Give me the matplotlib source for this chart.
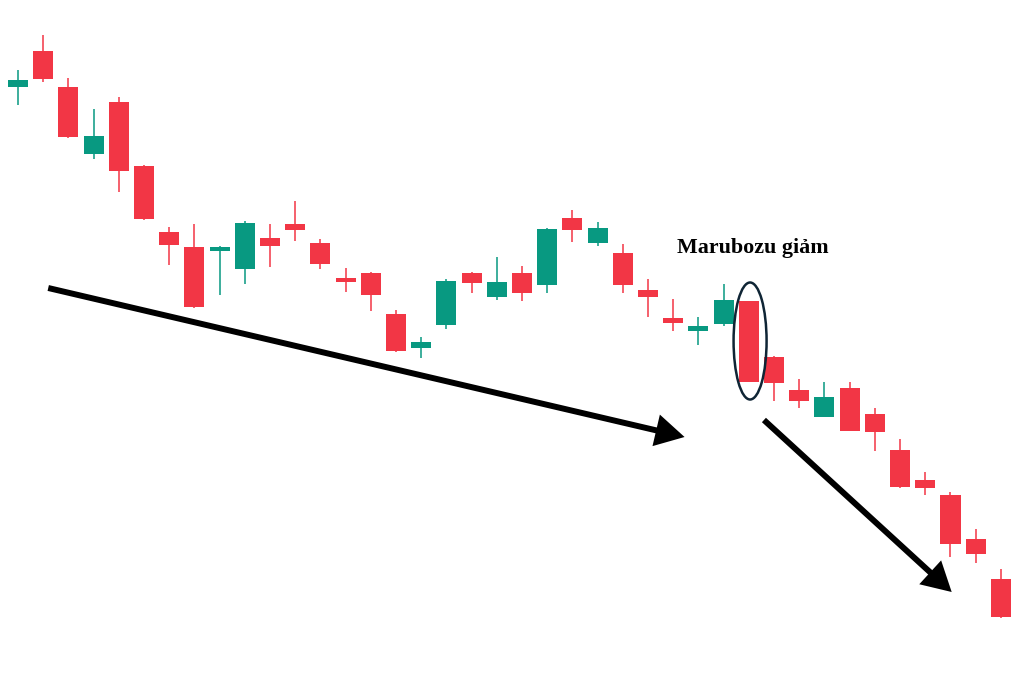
import numpy as np
import matplotlib
matplotlib.use('Agg')
import matplotlib.pyplot as plt
from matplotlib.patches import Ellipse

# 开, 高, 低, 收 (40 cây nến)
Open  = [594, 630, 594, 527, 579, 515, 449, 434, 430, 412,
         443, 457, 438, 403, 408, 367, 333, 356, 408, 384,
         408, 396, 463, 438, 428, 391, 363, 350, 357, 380,
         324, 291, 264, 293, 267, 231, 201, 186, 142, 102]
High  = [611, 646, 603, 572, 584, 516, 454, 457, 435, 460,
         457, 480, 442, 413, 409, 371, 344, 402, 409, 424,
         415, 453, 471, 459, 437, 402, 382, 364, 397, 380,
         325, 302, 299, 299, 273, 242, 209, 189, 152, 112]
Low   = [576, 599, 543, 522, 489, 461, 416, 373, 386, 397,
         414, 440, 412, 389, 370, 329, 323, 352, 388, 381,
         380, 388, 439, 435, 388, 364, 350, 336, 355, 299,
         280, 273, 264, 250, 230, 193, 186, 124, 118, 63]
Close = [601, 602, 544, 545, 510, 462, 436, 374, 434, 458,
         435, 451, 417, 399, 386, 330, 339, 400, 398, 399,
         388, 452, 451, 453, 396, 384, 358, 355, 381, 299,
         298, 280, 284, 250, 249, 194, 193, 137, 127, 64]

red = '#F23645'
green = '#089981'

fig = plt.figure(figsize=(10.23, 6.81), dpi=100)
ax = fig.add_axes([0, 0, 1, 1])

x = np.arange(len(Open))
o = np.array(Open)
c = np.array(Close)
col = [green if c[i] > o[i] else red for i in range(len(o))]

# 影线
ax.vlines(x, Low, High, colors=col, linewidth=1.1, zorder=1)
# 实体
ax.bar(x, np.abs(c - o), bottom=np.minimum(o, c), width=0.8, color=col, zorder=2)

# 两个箭头
arrow = dict(arrowstyle='-|>,head_length=0.72,head_width=0.4',
             color='black', lw=4.3, mutation_scale=20,
             shrinkA=0, shrinkB=0, capstyle='butt', joinstyle='miter')
ax.annotate('', xy=(26.45, 244), xytext=(1.2, 393), arrowprops=arrow)
ax.annotate('', xy=(37.05, 89), xytext=(29.6, 261), arrowprops=arrow)

# 椭圆标记
ax.add_patch(Ellipse((29.05, 340), 1.31, 117, fill=False,
                     edgecolor='#0f2535', lw=1.8, zorder=3))

ax.text(26.15, 433, 'Marubozu giảm', fontsize=15.8, fontweight='bold',
        family='Liberation Serif', ha='left', va='center')

ax.set_xlim(-0.714, 39.88)
ax.set_ylim(0, 681)
ax.axis('off')

plt.savefig('out.png', dpi=100)
